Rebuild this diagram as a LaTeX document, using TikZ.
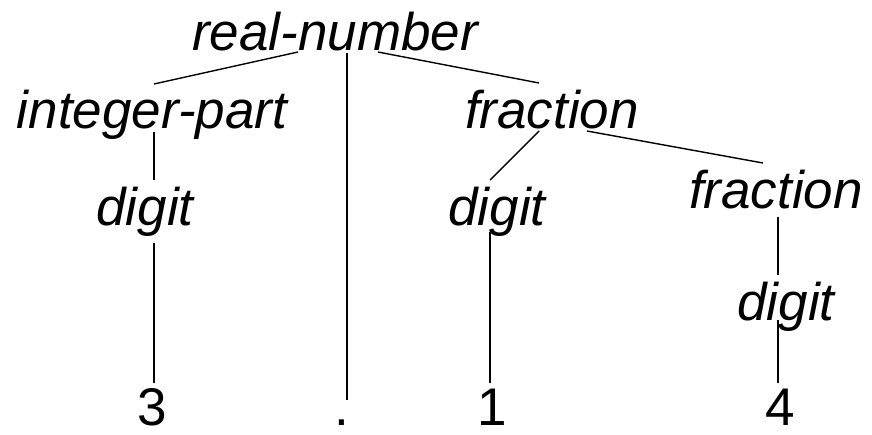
\documentclass[tikz,border=0pt]{standalone}
\usepackage{fontspec}
\setmainfont{Liberation Sans}
\usetikzlibrary{positioning}

\begin{document}
\begin{tikzpicture}[
    x=1pt, y=1pt,
    nonterm/.style={anchor=base, inner sep=0pt, font=\fontsize{53}{60}\selectfont\itshape},
    term/.style={anchor=base, inner sep=0pt, font=\fontsize{53}{60}\selectfont},
    branch/.style={draw=black, line width=1.4pt}
]
    \useasboundingbox (0,0) rectangle (872,-434);

    % Nonterminals
    \node[nonterm] (realnum) at (335,-50) {real-number};
    \node[nonterm] (intpart) at (152,-128) {integer-part};
    \node[nonterm] (frac) at (552,-128) {fraction};
    \node[nonterm] (digitl) at (145,-225) {digit};
    \node[nonterm] (digitm) at (497,-225) {digit};
    \node[nonterm] (fracr) at (776,-208) {fraction};
    \node[nonterm] (digitr) at (786,-320) {digit};

    % Terminals
    \node[term] (three) at (152,-425) {3};
    \node[term] (point) at (342,-425) {.};
    \node[term] (one) at (492,-425) {1};
    \node[term] (four) at (780,-425) {4};

    % Branches
    \draw[branch] ([shift={(-37,-2)}]realnum.base) -- ([shift={(2,44)}]intpart.base);
    \draw[branch] ([shift={(12,-3)}]realnum.base) -- ([shift={(5,25)}]point.base);
    \draw[branch] ([shift={(43,-2)}]realnum.base) -- ([shift={(-13,45)}]frac.base);
    \draw[branch] ([shift={(2,-4)}]intpart.base) -- ([shift={(9,45)}]digitl.base);
    \draw[branch] ([shift={(9,-18)}]digitl.base) -- ([shift={(2,42)}]three.base);
    \draw[branch] ([shift={(-13,-3)}]frac.base) -- ([shift={(-7,45)}]digitm.base);
    \draw[branch] ([shift={(35,-3)}]frac.base) -- ([shift={(-13,45)}]fracr.base);
    \draw[branch] ([shift={(-7,-7)}]digitm.base) -- ([shift={(-2,42)}]one.base);
    \draw[branch] ([shift={(2,-9)}]fracr.base) -- ([shift={(-8,45)}]digitr.base);
    \draw[branch] ([shift={(-8,0)}]digitr.base) -- ([shift={(-2,42)}]four.base);

\end{tikzpicture}
\end{document}
